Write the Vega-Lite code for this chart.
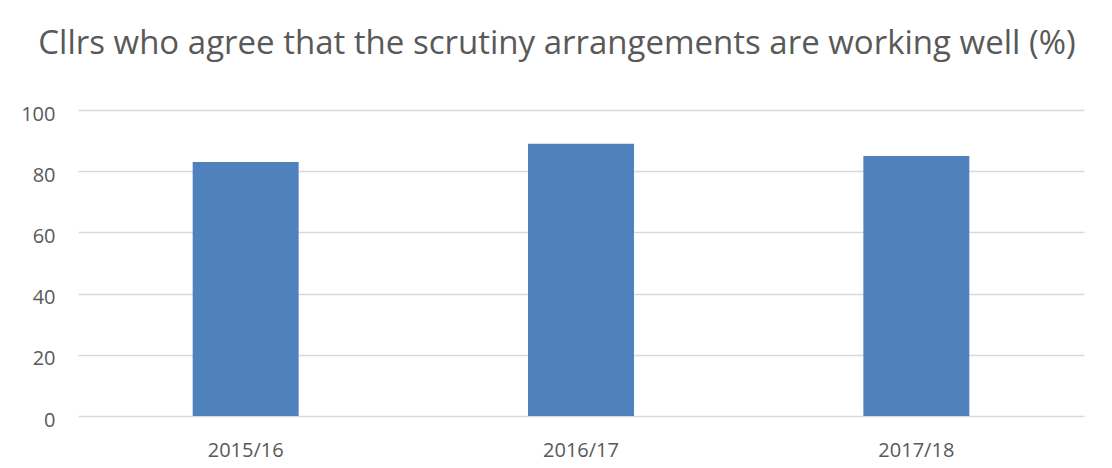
{
  "$schema": "https://vega.github.io/schema/vega-lite/v6.json",
  "autosize": "none",
  "width": 1006,
  "height": 306,
  "padding": {"left": 78, "top": 110, "right": 28, "bottom": 52},
  "background": "white",
  "title": {
    "text": "Cllrs who agree that the scrutiny arrangements are working well (%)",
    "font": "Open Sans",
    "fontSize": 33,
    "fontWeight": "normal",
    "color": "#595959",
    "anchor": "middle",
    "dx": -24,
    "offset": 43
  },
  "data": {
    "values": [
      {"year": "2015/16", "pct": 83},
      {"year": "2016/17", "pct": 89},
      {"year": "2017/18", "pct": 85}
    ]
  },
  "mark": {"type": "bar", "color": "#4f81bd"},
  "encoding": {
    "x": {
      "field": "year",
      "type": "nominal",
      "sort": null,
      "title": null,
      "scale": {"paddingInner": 0.684, "paddingOuter": 0.342},
      "axis": {
        "labelAngle": 0,
        "labelFont": "Open Sans",
        "labelFontSize": 20,
        "labelColor": "#595959",
        "labelPadding": 24,
        "ticks": false,
        "domain": false,
        "grid": false
      }
    },
    "y": {
      "field": "pct",
      "type": "quantitative",
      "title": null,
      "scale": {"domain": [0, 100]},
      "axis": {
        "values": [0, 20, 40, 60, 80, 100],
        "labelFont": "Open Sans",
        "labelFontSize": 20,
        "labelColor": "#595959",
        "labelPadding": 23,
        "labelOffset": 4,
        "ticks": false,
        "domain": false,
        "gridColor": "#d9d9d9",
        "gridWidth": 1.3
      }
    }
  },
  "config": {"view": {"stroke": null}}
}
